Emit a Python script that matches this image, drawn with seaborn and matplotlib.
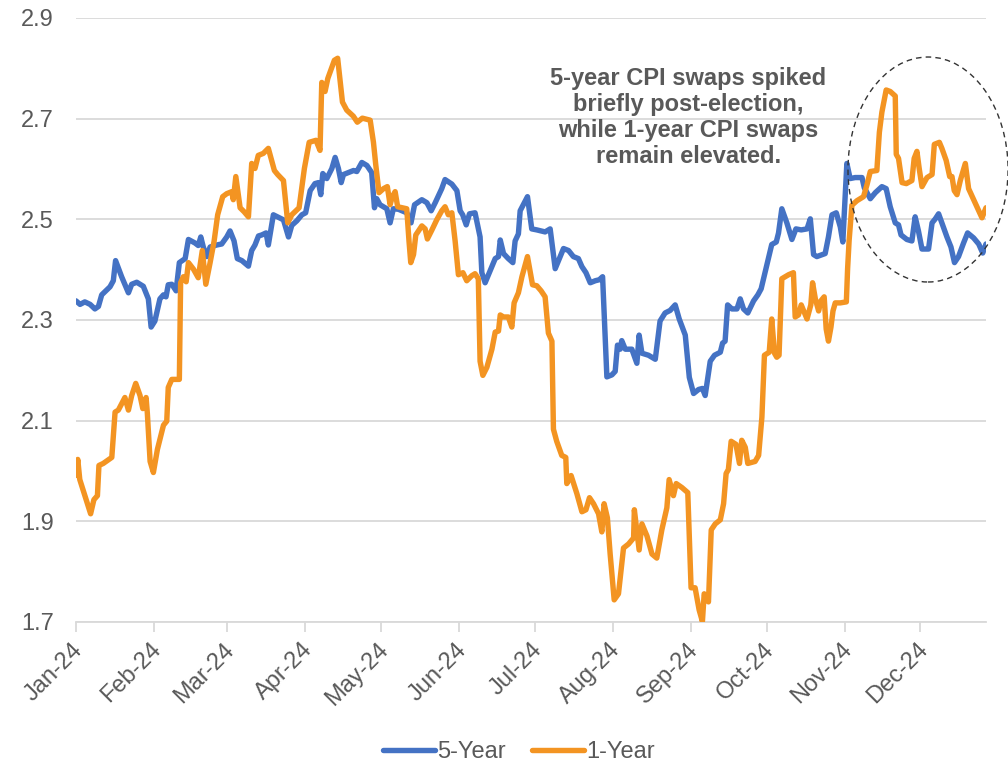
import pandas as pd
import matplotlib
matplotlib.use("Agg")
import matplotlib.pyplot as plt
import matplotlib.dates as mdates
import matplotlib.transforms as mtransforms
from matplotlib.patches import Ellipse
from matplotlib.lines import Line2D
import seaborn as sns

START = pd.Timestamp("2024-01-01")

# 5-Year CPI swap: days since 1 Jan 2024, level (%)
days_5y = [0, 1.6, 3.5, 5.6, 7.5, 8.9, 10.2, 13.5, 14.8, 15.7, 18.1, 20.8, 22.1, 24.1, 26.7,
           28.7, 29.8, 31.3, 33.3, 34.7, 35.7, 36.6, 38.0, 39.7, 41.0, 43.3, 44.6, 47.2, 48.5,
           49.5, 50.5, 51.9, 53.2, 55.8, 57.8, 59.8, 61.1, 62.7, 64.0, 65.8, 68.4, 69.7, 71.0,
           72.4, 73.7, 75.4, 76.3, 78.3, 80.3, 82.3, 84.3, 85.6, 87.6, 89.6, 91.1, 92.9, 94.8,
           96.2, 97.1, 97.9, 99.5, 101.5, 102.8, 104.1, 105.2, 106.1, 108.1, 110.1, 111.4,
           113.4, 115.4, 117.3, 118.4, 119.3, 120.6, 123.3, 124.6, 125.9, 127.9, 131.2, 132.9,
           134.3, 137.2, 139.2, 140.9, 142.5, 145.1, 146.4, 149.1, 151.1, 152.4, 153.4, 154.8,
           156.1, 158.3, 160.3, 161.0, 162.3, 164.3, 166.3, 167.6, 168.3, 169.6, 171.5, 173.3,
           174.2, 175.5, 176.2, 179.1, 180.8, 182.8, 186.1, 188.1, 190.1, 193.4, 195.4, 197.3,
           199.3, 200.7, 202.3, 204.0, 206.0, 207.6, 208.9, 210.6, 212.6, 213.9, 214.8, 215.9,
           216.5, 217.9, 220.5, 222.5, 223.4, 224.5, 227.1, 229.8, 231.7, 233.7, 235.7, 237.7,
           239.3, 241.7, 243.3, 245.0, 247.0, 248.5, 249.6, 251.6, 253.3, 255.6, 256.5, 257.5,
           258.5, 260.2, 262.2, 263.5, 264.8, 266.5, 268.8, 270.5, 271.8, 274.1, 276.0, 277.8,
           278.7, 280.0, 282.0, 284.0, 285.6, 287.7, 290.0, 291.3, 292.6, 293.9, 297.2, 298.5,
           299.9, 301.6, 303.2, 304.2, 305.8, 307.1, 309.1, 311.8, 312.7, 315.1, 317.1, 319.7,
           321.4, 323.0, 325.0, 326.3, 327.3, 329.6, 331.6, 332.9, 334.2, 335.6, 338.2, 339.6,
           340.9, 342.2, 343.5, 345.5, 347.1, 348.5, 350.1, 352.1, 353.7, 356.1, 358.1, 359.7,
           361.0]
vals_5y = [2.338, 2.331, 2.336, 2.331, 2.322, 2.327, 2.350, 2.366, 2.378, 2.418, 2.386, 2.354,
           2.371, 2.375, 2.367, 2.342, 2.286, 2.298, 2.342, 2.350, 2.346, 2.370, 2.371, 2.358,
           2.414, 2.422, 2.460, 2.453, 2.448, 2.465, 2.445, 2.426, 2.445, 2.449, 2.451, 2.465,
           2.477, 2.457, 2.422, 2.418, 2.407, 2.438, 2.449, 2.467, 2.469, 2.473, 2.449, 2.509,
           2.504, 2.499, 2.465, 2.488, 2.497, 2.509, 2.513, 2.557, 2.571, 2.573, 2.549, 2.591,
           2.581, 2.601, 2.623, 2.601, 2.573, 2.589, 2.593, 2.597, 2.595, 2.613, 2.607, 2.593,
           2.523, 2.541, 2.529, 2.521, 2.493, 2.521, 2.520, 2.513, 2.493, 2.529, 2.539, 2.533,
           2.517, 2.533, 2.561, 2.579, 2.570, 2.557, 2.517, 2.509, 2.489, 2.511, 2.513, 2.465,
           2.394, 2.374, 2.398, 2.422, 2.426, 2.459, 2.432, 2.422, 2.414, 2.457, 2.471, 2.517,
           2.545, 2.481, 2.479, 2.475, 2.481, 2.402, 2.442, 2.438, 2.426, 2.422, 2.406, 2.394,
           2.374, 2.378, 2.380, 2.386, 2.187, 2.191, 2.198, 2.250, 2.242, 2.259, 2.242, 2.242,
           2.214, 2.270, 2.234, 2.230, 2.222, 2.298, 2.314, 2.319, 2.330, 2.302, 2.270, 2.186,
           2.154, 2.162, 2.164, 2.150, 2.218, 2.230, 2.236, 2.254, 2.258, 2.330, 2.322, 2.322,
           2.342, 2.322, 2.314, 2.338, 2.350, 2.362, 2.410, 2.450, 2.455, 2.473, 2.521, 2.493,
           2.460, 2.481, 2.479, 2.481, 2.501, 2.430, 2.426, 2.432, 2.465, 2.509, 2.513, 2.485,
           2.455, 2.611, 2.581, 2.583, 2.583, 2.563, 2.541, 2.553, 2.565, 2.561, 2.525, 2.493,
           2.489, 2.469, 2.460, 2.457, 2.505, 2.477, 2.441, 2.441, 2.493, 2.501, 2.511, 2.493,
           2.465, 2.445, 2.414, 2.426, 2.453, 2.473, 2.463, 2.451, 2.433, 2.451]

# 1-Year CPI swap: days since 1 Jan 2024, level (%)
days_1y = [0, 0.7, 1.5, 5.8, 7.1, 8.5, 9.1, 10.8, 14.2, 15.5, 16.8, 19.4, 20.8, 22.1, 23.7,
           25.4, 26.5, 27.8, 28.3, 29.4, 30.7, 32.3, 34.7, 36.0, 36.6, 38.0, 41.0, 41.5, 42.6,
           43.7, 44.6, 46.6, 48.5, 50.1, 51.5, 53.2, 54.8, 56.2, 58.2, 59.8, 61.8, 62.4, 63.4,
           65.1, 66.7, 68.4, 69.7, 71.0, 72.3, 74.3, 76.3, 78.7, 80.0, 82.3, 84.0, 85.6, 88.5,
           90.6, 92.5, 95.2, 96.8, 97.5, 98.8, 99.9, 102.5, 103.8, 105.7, 107.4, 110.0, 111.6,
           113.6, 116.7, 118.0, 118.9, 120.2, 122.0, 123.5, 124.6, 125.5, 126.6, 127.6, 131.2,
           132.1, 132.8, 133.9, 134.8, 137.2, 138.5, 139.4, 141.2, 143.1, 145.1, 146.4, 147.7,
           149.1, 150.4, 151.7, 153.5, 155.0, 157.0, 158.3, 159.6, 160.3, 161.4, 163.0, 165.0,
           166.3, 167.6, 168.3, 169.6, 171.5, 172.9, 173.8, 175.5, 176.9, 179.1, 181.1, 182.8,
           184.5, 186.1, 187.4, 188.8, 189.4, 190.7, 192.7, 194.3, 194.7, 196.4, 198.7, 200.7,
           202.3, 203.7, 205.3, 207.3, 208.6, 209.5, 210.8, 211.9, 213.5, 215.2, 217.2, 219.2,
           221.2, 221.5, 223.4, 224.5, 226.5, 228.5, 230.4, 232.4, 234.4, 235.3, 237.0, 238.1,
           240.4, 242.7, 244.0, 245.6, 247.2, 248.5, 249.2, 250.9, 252.0, 253.6, 255.6, 256.9,
           257.9, 258.8, 259.9, 261.8, 263.2, 264.1, 265.5, 266.5, 269.4, 270.8, 272.1, 273.1,
           275.0, 276.0, 277.1, 278.0, 278.9, 280.0, 282.7, 284.6, 285.3, 286.6, 287.7, 290.0,
           291.5, 292.2, 293.3, 294.6, 295.5, 296.8, 297.6, 298.5, 299.5, 300.3, 301.2, 303.2,
           305.6, 306.1, 306.7, 307.8, 309.8, 312.4, 313.8, 315.1, 317.7, 318.7, 319.7, 321.4,
           323.0, 325.0, 325.4, 326.3, 327.7, 329.4, 331.6, 332.5, 333.6, 334.5, 335.6, 337.6,
           339.6, 340.5, 342.5, 343.5, 345.2, 346.6, 347.5, 348.4, 349.5, 350.8, 352.8, 354.1,
           355.2, 356.7, 358.1, 359.4, 361.0]
vals_1y = [1.991, 2.023, 1.983, 1.915, 1.943, 1.951, 2.011, 2.015, 2.027, 2.117, 2.121, 2.146,
           2.121, 2.150, 2.174, 2.150, 2.124, 2.146, 2.115, 2.019, 1.997, 2.043, 2.091, 2.099,
           2.166, 2.182, 2.182, 2.374, 2.386, 2.376, 2.414, 2.401, 2.384, 2.438, 2.371, 2.414,
           2.457, 2.509, 2.545, 2.551, 2.555, 2.539, 2.585, 2.523, 2.515, 2.505, 2.611, 2.601,
           2.627, 2.631, 2.641, 2.597, 2.589, 2.577, 2.493, 2.509, 2.523, 2.601, 2.653, 2.657,
           2.637, 2.772, 2.754, 2.780, 2.816, 2.820, 2.733, 2.717, 2.705, 2.693, 2.701, 2.697,
           2.653, 2.609, 2.553, 2.561, 2.565, 2.529, 2.545, 2.555, 2.525, 2.521, 2.457, 2.414,
           2.430, 2.469, 2.487, 2.481, 2.461, 2.479, 2.499, 2.517, 2.525, 2.509, 2.513, 2.457,
           2.390, 2.394, 2.378, 2.388, 2.392, 2.382, 2.218, 2.190, 2.206, 2.242, 2.276, 2.278,
           2.310, 2.306, 2.306, 2.286, 2.334, 2.354, 2.386, 2.426, 2.370, 2.368, 2.358, 2.346,
           2.274, 2.258, 2.083, 2.059, 2.031, 2.027, 1.975, 1.991, 1.955, 1.919, 1.923, 1.947,
           1.935, 1.915, 1.879, 1.935, 1.907, 1.835, 1.744, 1.756, 1.847, 1.855, 1.867, 1.923,
           1.843, 1.895, 1.871, 1.835, 1.827, 1.883, 1.927, 1.983, 1.951, 1.975, 1.967, 1.957,
           1.768, 1.768, 1.724, 1.701, 1.756, 1.740, 1.883, 1.895, 1.903, 1.935, 1.995, 2.003,
           2.059, 2.053, 2.015, 2.061, 2.047, 2.015, 2.019, 2.031, 2.107, 2.230, 2.236, 2.302,
           2.234, 2.226, 2.230, 2.382, 2.390, 2.394, 2.306, 2.310, 2.330, 2.302, 2.330, 2.374,
           2.342, 2.318, 2.338, 2.346, 2.282, 2.258, 2.286, 2.318, 2.334, 2.334, 2.336, 2.402,
           2.458, 2.528, 2.537, 2.545, 2.569, 2.595, 2.597, 2.673, 2.713, 2.757, 2.754, 2.745,
           2.629, 2.621, 2.573, 2.571, 2.577, 2.621, 2.635, 2.601, 2.565, 2.583, 2.589, 2.649,
           2.653, 2.641, 2.617, 2.585, 2.585, 2.557, 2.549, 2.577, 2.611, 2.561, 2.549, 2.533,
           2.517, 2.503, 2.523]

y_ticks = [1.7, 1.9, 2.1, 2.3, 2.5, 2.7, 2.9]
series_names = ["5-Year", "1-Year"]
note = ("5-year CPI swaps spiked\nbriefly post-election,\n"
        "while 1-year CPI swaps\nremain elevated.")

BLUE = "#4472C4"
ORANGE = "#F39422"
GRID = "#D9D9D9"
TEXT = "#595959"
FS = 17
LW = 3.9

sns.set_style("white")
plt.rcParams["font.family"] = ["Liberation Sans", "DejaVu Sans"]


def to_dates(days):
    return START + pd.to_timedelta(days, unit="D")


df5 = pd.DataFrame({"date": to_dates(days_5y), "value": vals_5y})
df1 = pd.DataFrame({"date": to_dates(days_1y), "value": vals_1y})

fig = plt.figure(figsize=(10.08, 7.62), dpi=100)
ax = fig.add_axes([76 / 1008, 1 - 622 / 762, (986 - 76) / 1008, (622 - 18) / 762])

sns.lineplot(data=df5, x="date", y="value", ax=ax, color=BLUE, lw=LW,
             estimator=None, sort=False, solid_joinstyle="round", zorder=3)
sns.lineplot(data=df1, x="date", y="value", ax=ax, color=ORANGE, lw=LW,
             estimator=None, sort=False, solid_joinstyle="round", zorder=4)

ax.set_xlim(START, df5["date"].max())
ax.set_ylim(y_ticks[0], y_ticks[-1])
ax.set_yticks(y_ticks)
ax.set_yticklabels([f"{v:.1f}" for v in y_ticks])
ax.set_xlabel("")
ax.set_ylabel("")

ax.xaxis.set_major_locator(mdates.MonthLocator())
ax.xaxis.set_major_formatter(mdates.DateFormatter("%b-%y"))

for side in ["left", "right", "top"]:
    ax.spines[side].set_visible(False)
ax.spines["bottom"].set_color(GRID)
ax.spines["bottom"].set_linewidth(1.3)
ax.yaxis.grid(True, color=GRID, lw=1.3)
ax.xaxis.grid(False)
ax.set_axisbelow(True)

ax.tick_params(axis="y", length=0, pad=16, labelsize=FS, labelcolor=TEXT)
ax.tick_params(axis="x", direction="out", length=7, width=1.3, color=GRID,
               pad=5, labelsize=FS, labelcolor=TEXT, bottom=True)
shift = mtransforms.ScaledTranslation(-4 / 100, 0, fig.dpi_scale_trans)
for lab in ax.get_xticklabels():
    lab.set_rotation(45)
    lab.set_ha("right")
    lab.set_va("top")
    lab.set_rotation_mode("anchor")
    lab.set_transform(lab.get_transform() + shift)

# annotation and dashed ellipse round the post-election period
ax.text(START + pd.Timedelta(days=243), 2.703, note, ha="center", va="center",
        fontsize=FS, fontweight="bold", color=TEXT, linespacing=1.17)
centre = mdates.date2num(START + pd.Timedelta(days=338))
ax.add_patch(Ellipse((centre, 2.599), 63.5, 0.447, fill=False, ec="#333333",
                     lw=1.0, ls=(0, (4, 3)), clip_on=False, zorder=5))

handles = [Line2D([], [], color=c, lw=LW) for c in (BLUE, ORANGE)]
leg = fig.legend(handles, series_names, loc="center", bbox_to_anchor=(0.515, 0.013),
                 ncol=2, frameon=False, fontsize=FS, handlelength=2.2,
                 handletextpad=0.1, columnspacing=1.1)
for t in leg.get_texts():
    t.set_color(TEXT)

fig.savefig("out.png", dpi=100)
